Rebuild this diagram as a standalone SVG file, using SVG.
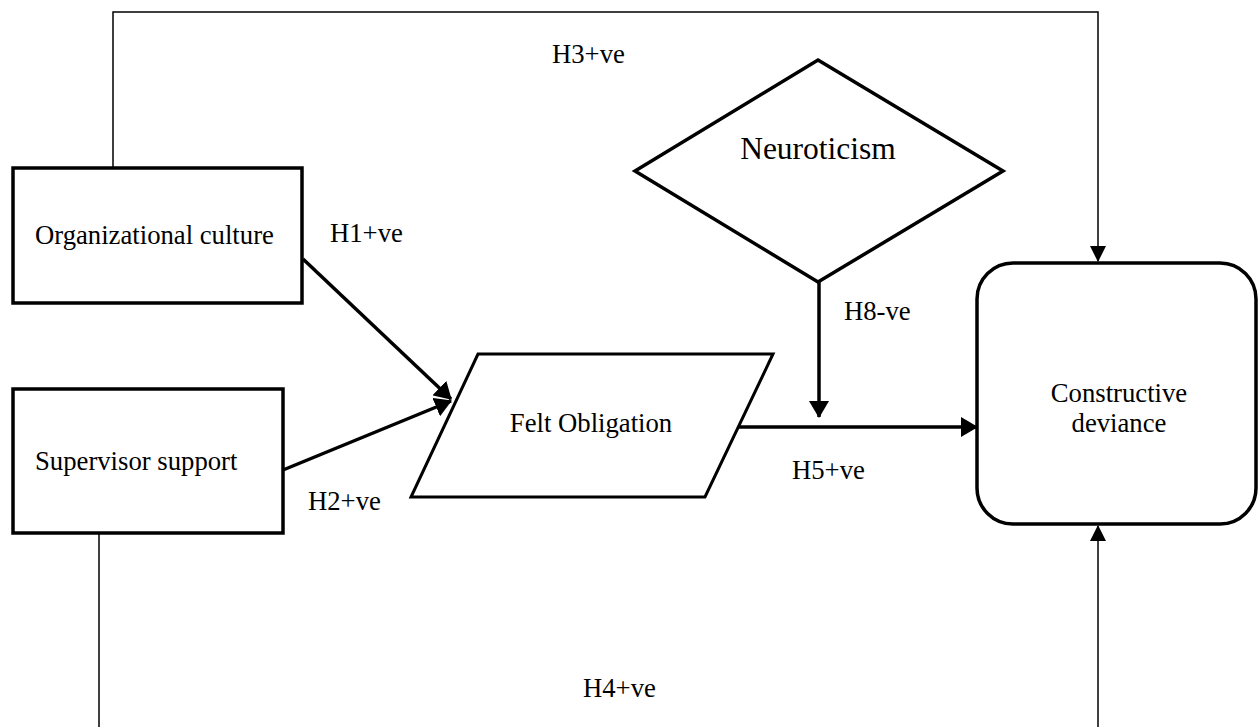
<svg xmlns="http://www.w3.org/2000/svg" width="1258" height="727" viewBox="0 0 1258 727">
  <style>
    .node { fill: #ffffff; stroke: #000000; stroke-width: 3.5; }
    .label { font-family: "Liberation Serif", "Times New Roman", serif; font-size: 26.7px; fill: #000000; }
    .thin { fill: none; stroke: #000000; stroke-width: 1.5; }
    .thick { fill: none; stroke: #000000; stroke-width: 3.5; }
  </style>
  <defs>
    <marker id="arrowThin" markerUnits="userSpaceOnUse" markerWidth="16" markerHeight="16" viewBox="0 0 16 16" refX="15" refY="8" orient="auto">
      <path d="M0,0 L16,8 L0,16 Z" fill="#000000"/>
    </marker>
    <marker id="arrowThick" markerUnits="userSpaceOnUse" markerWidth="17" markerHeight="20" viewBox="0 0 17 20" refX="16" refY="10" orient="auto">
      <path d="M0,0 L17,10 L0,20 Z" fill="#000000"/>
    </marker>
  </defs>

  <g id="connectors">
    <path class="thin" d="M113,168 V12 H1098 V261" marker-end="url(#arrowThin)"/>
    <path class="thin" d="M99,533 V728"/>
    <path class="thin" d="M1098,728 V526" marker-end="url(#arrowThin)"/>
    <path class="thick" d="M303,259 L451,399" marker-end="url(#arrowThick)"/>
    <path class="thick" d="M283,470 L451,401" marker-end="url(#arrowThick)"/>
    <path class="thick" d="M819,282 V417" marker-end="url(#arrowThick)"/>
    <path class="thick" d="M738,427 H977" marker-end="url(#arrowThick)"/>
  </g>

  <g id="node-org-culture">
    <rect class="node" x="13" y="168" width="289" height="135"/>
    <text class="label" x="35" y="244">Organizational culture</text>
  </g>

  <g id="node-supervisor-support">
    <rect class="node" x="13" y="389" width="270" height="144"/>
    <text class="label" x="35" y="470">Supervisor support</text>
  </g>

  <g id="node-felt-obligation">
    <polygon class="node" style="stroke-width:3" points="478,354 773,354 705,497 411,497"/>
    <text class="label" x="591" y="432" text-anchor="middle">Felt Obligation</text>
  </g>

  <g id="node-neuroticism">
    <polygon class="node" points="818,60 1003,171 818,282 635,171"/>
    <text class="label" x="818" y="159" text-anchor="middle" style="font-size:31.5px">Neuroticism</text>
  </g>

  <g id="node-constructive-deviance">
    <rect class="node" x="977" y="263" width="279" height="261" rx="36" ry="36"/>
    <text class="label" x="1119" y="402" text-anchor="middle">Constructive</text>
    <text class="label" x="1119" y="432" text-anchor="middle">deviance</text>
  </g>

  <g id="edge-labels">
    <text class="label" x="552" y="63">H3+ve</text>
    <text class="label" x="330" y="242">H1+ve</text>
    <text class="label" x="308" y="510">H2+ve</text>
    <text class="label" x="844" y="320">H8-ve</text>
    <text class="label" x="792" y="479">H5+ve</text>
    <text class="label" x="583" y="697">H4+ve</text>
  </g>
</svg>
